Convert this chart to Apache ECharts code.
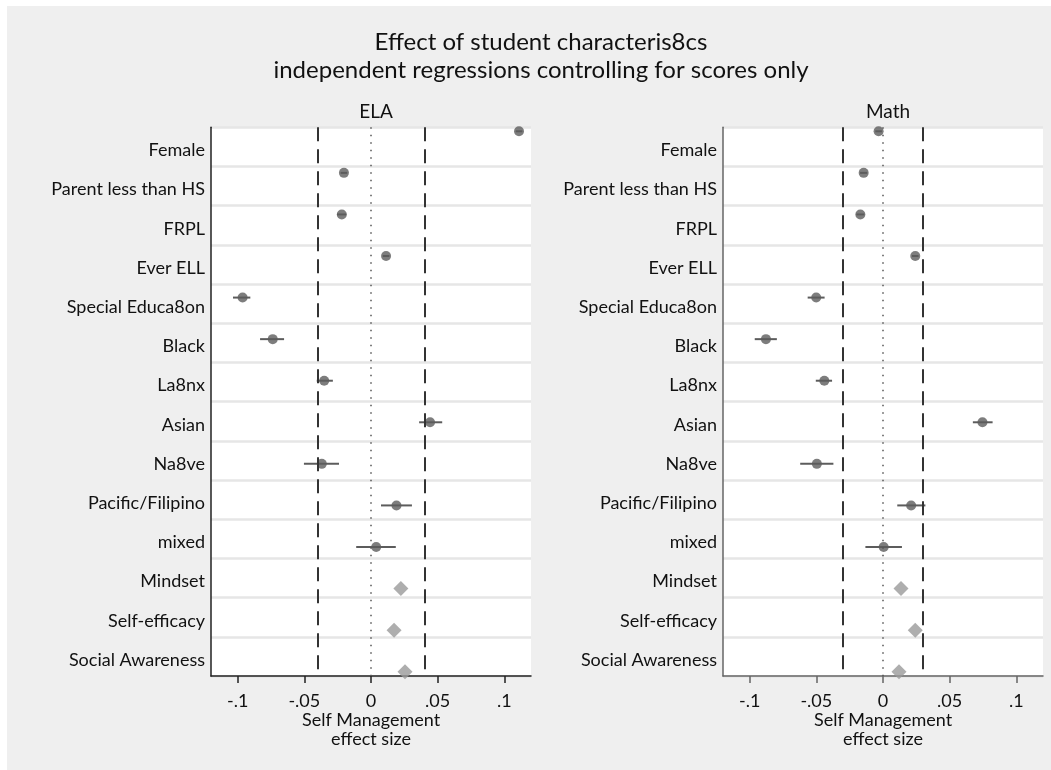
<!DOCTYPE html>
<html>
<head>
<meta charset="utf-8">
<script src="https://cdn.jsdelivr.net/npm/echarts@6/dist/echarts.min.js"></script>
<style>
  html, body { margin: 0; padding: 0; background: #fff; }
  #chart { width: 1051px; height: 770px; }
</style>
</head>
<body>
<div id="chart"></div>
<script>
// rows, top to bottom; the last three are SEL measures drawn as diamonds
const categories = [
  'Female', 'Parent less than HS', 'FRPL', 'Ever ELL', 'Special Educa8on', 'Black',
  'La8nx', 'Asian', 'Na8ve', 'Pacific/Filipino', 'mixed', 'Mindset', 'Self-efficacy',
  'Social Awareness'
]
const nCharacteristics = 11

const elaEst  = [0.111, -0.0203, -0.0219, 0.0113, -0.0963, -0.0737, -0.0351, 0.0443, -0.0369, 0.0191, 0.0039, 0.0224, 0.0173, 0.0255]
const elaLow  = [0.1085, -0.0228, -0.0255, 0.0088, -0.1035, -0.0832, -0.0407, 0.0361, -0.0503, 0.0075, -0.0111, null, null, null]
const elaHigh = [0.1135, -0.0178, -0.0185, 0.0138, -0.0905, -0.0652, -0.0286, 0.0534, -0.0240, 0.0307, 0.0186, null, null, null]

const mathEst  = [-0.0033, -0.0145, -0.0170, 0.0242, -0.0501, -0.0878, -0.0440, 0.0746, -0.0496, 0.0211, 0.0005, 0.0135, 0.0242, 0.0120]
const mathLow  = [-0.0058, -0.0172, -0.0200, 0.0217, -0.0565, -0.0962, -0.0504, 0.0674, -0.0621, 0.0107, -0.0132, null, null, null]
const mathHigh = [-0.0008, -0.0118, -0.0140, 0.0267, -0.0438, -0.0796, -0.0382, 0.0822, -0.0372, 0.0318, 0.0142, null, null, null]

const elaBand = 0.0415
const mathBand = 0.033

const tickValues = [-0.1, -0.05, 0, 0.05, 0.1]
const tickLabels = ['-.1', '-.05', '0', '.05', '.1']

const FONT = 'Lato'
const DOT = '#5c5c5c'

const chart = echarts.init(document.getElementById('chart'), null, { renderer: 'canvas' })

const panels = [
  { title: 'ELA', left: 211, axisColor: '#222', est: elaEst, low: elaLow, high: elaHigh, band: elaBand },
  { title: 'Math', left: 723, axisColor: '#666', est: mathEst, low: mathLow, high: mathHigh, band: mathBand },
]
const panelWidth = 320

const grid = [], xAxis = [], yAxis = [], series = [], titles = []

titles.push({
  text: 'Effect of student characteris8cs\nindependent regressions controlling for scores only',
  left: 536, top: 23, textAlign: 'center',
  textStyle: { fontFamily: FONT, fontSize: 24, lineHeight: 28, fontWeight: 'normal', color: '#111' },
})

panels.forEach((p, i) => {
  const gA = i * 3, gB = i * 3 + 1, gC = i * 3 + 2
  titles.push({
    text: p.title, left: p.left + panelWidth / 2, top: 97, textAlign: 'center',
    textStyle: { fontFamily: FONT, fontSize: 19, fontWeight: 'normal', color: '#111' },
  })
  // background grid: white band, separators, axes
  grid.push({ left: p.left, top: 127.3, width: panelWidth, height: 548.7, show: true, backgroundColor: '#fff', borderWidth: 0 })
  // marker grid: first and last rows sit near the edges
  grid.push({ left: p.left, top: 131.3, width: panelWidth, height: 540.4 })
  // row label grid, a little lower than the bands
  grid.push({ left: p.left, top: 130.8, width: panelWidth, height: 548.7 })

  xAxis.push({
    type: 'value', gridIndex: gA, min: -0.12, max: 0.12,
    axisLine: { show: true, onZero: false, lineStyle: { color: p.axisColor, width: 1.5 } },
    axisTick: { show: true, customValues: tickValues, length: 7, lineStyle: { color: p.axisColor, width: 1.5 } },
    axisLabel: {
      customValues: tickValues, margin: 16, fontFamily: FONT, fontSize: 18, color: '#111',
      formatter: v => tickLabels[tickValues.findIndex(t => Math.abs(t - v) < 1e-9)] ?? '',
    },
    splitLine: { show: false },
    name: 'Self Management\neffect size', nameLocation: 'middle', nameGap: 34.5, nameMoveOverlap: false,
    nameTextStyle: { fontFamily: FONT, fontSize: 18, lineHeight: 19, color: '#111' },
  })
  xAxis.push({ type: 'value', gridIndex: gB, min: -0.12, max: 0.12, show: false })
  xAxis.push({ type: 'value', gridIndex: gC, min: -0.12, max: 0.12, show: false })

  yAxis.push({
    type: 'category', gridIndex: gA, data: categories, inverse: true, boundaryGap: true,
    axisLine: { show: true, onZero: false, lineStyle: { color: p.axisColor, width: 1.5 } },
    axisTick: { show: false },
    axisLabel: { show: false },
    splitLine: { show: true, interval: 0, lineStyle: { color: '#e6e6e6', width: 2.5 } },
  })
  yAxis.push({ type: 'category', gridIndex: gB, data: categories, inverse: true, boundaryGap: false, show: false })
  yAxis.push({
    type: 'category', gridIndex: gC, data: categories, inverse: true, boundaryGap: true,
    axisLine: { show: false }, axisTick: { show: false }, splitLine: { show: false },
    axisLabel: { interval: 0, margin: 6, fontFamily: FONT, fontSize: 18, color: '#111' },
  })

  // reference lines (dashed band and dotted zero)
  series.push({
    type: 'scatter', xAxisIndex: gA, yAxisIndex: gA, data: [], silent: true,
    markLine: {
      silent: true, symbol: 'none', label: { show: false }, animation: false,
      data: [
        { xAxis: -p.band, lineStyle: { type: [14, 8], color: '#333', width: 2 } },
        { xAxis: p.band, lineStyle: { type: [14, 8], color: '#333', width: 2 } },
        { xAxis: 0, lineStyle: { type: [1.5, 6], color: '#555', width: 1.5 } },
      ],
    },
  })

  const bars = []
  p.low.forEach((lo, k) => { if (lo != null) bars.push([lo, p.high[k], k]) })
  series.push({
    type: 'custom', xAxisIndex: gB, yAxisIndex: gB, data: bars, silent: true,
    encode: { x: [0, 1], y: 2 },
    renderItem: (params, api) => {
      const a = api.coord([api.value(0), api.value(2)])
      const b = api.coord([api.value(1), api.value(2)])
      return { type: 'line', shape: { x1: a[0], y1: a[1], x2: b[0], y2: b[1] }, style: { stroke: DOT, lineWidth: 2 } }
    },
  })
  series.push({
    type: 'scatter', xAxisIndex: gB, yAxisIndex: gB, symbol: 'circle', symbolSize: 10,
    itemStyle: { color: DOT }, silent: true,
    data: p.est.slice(0, nCharacteristics).map((v, k) => [v, k]),
  })
  series.push({
    type: 'scatter', xAxisIndex: gB, yAxisIndex: gB, symbol: 'diamond', symbolSize: 15,
    itemStyle: { color: '#9a9a9a' }, silent: true,
    data: p.est.slice(nCharacteristics).map((v, k) => [v, k + nCharacteristics]),
  })
})

chart.setOption({
  animation: false,
  backgroundColor: '#efefef',
  textStyle: { fontFamily: FONT },
  title: titles,
  graphic: [
    { type: 'rect', shape: { x: 0, y: 0, width: 1051, height: 6 }, style: { fill: '#fff' }, silent: true },
    { type: 'rect', shape: { x: 0, y: 0, width: 7, height: 770 }, style: { fill: '#fff' }, silent: true },
  ],
  grid, xAxis, yAxis, series,
})
</script>
</body>
</html>
